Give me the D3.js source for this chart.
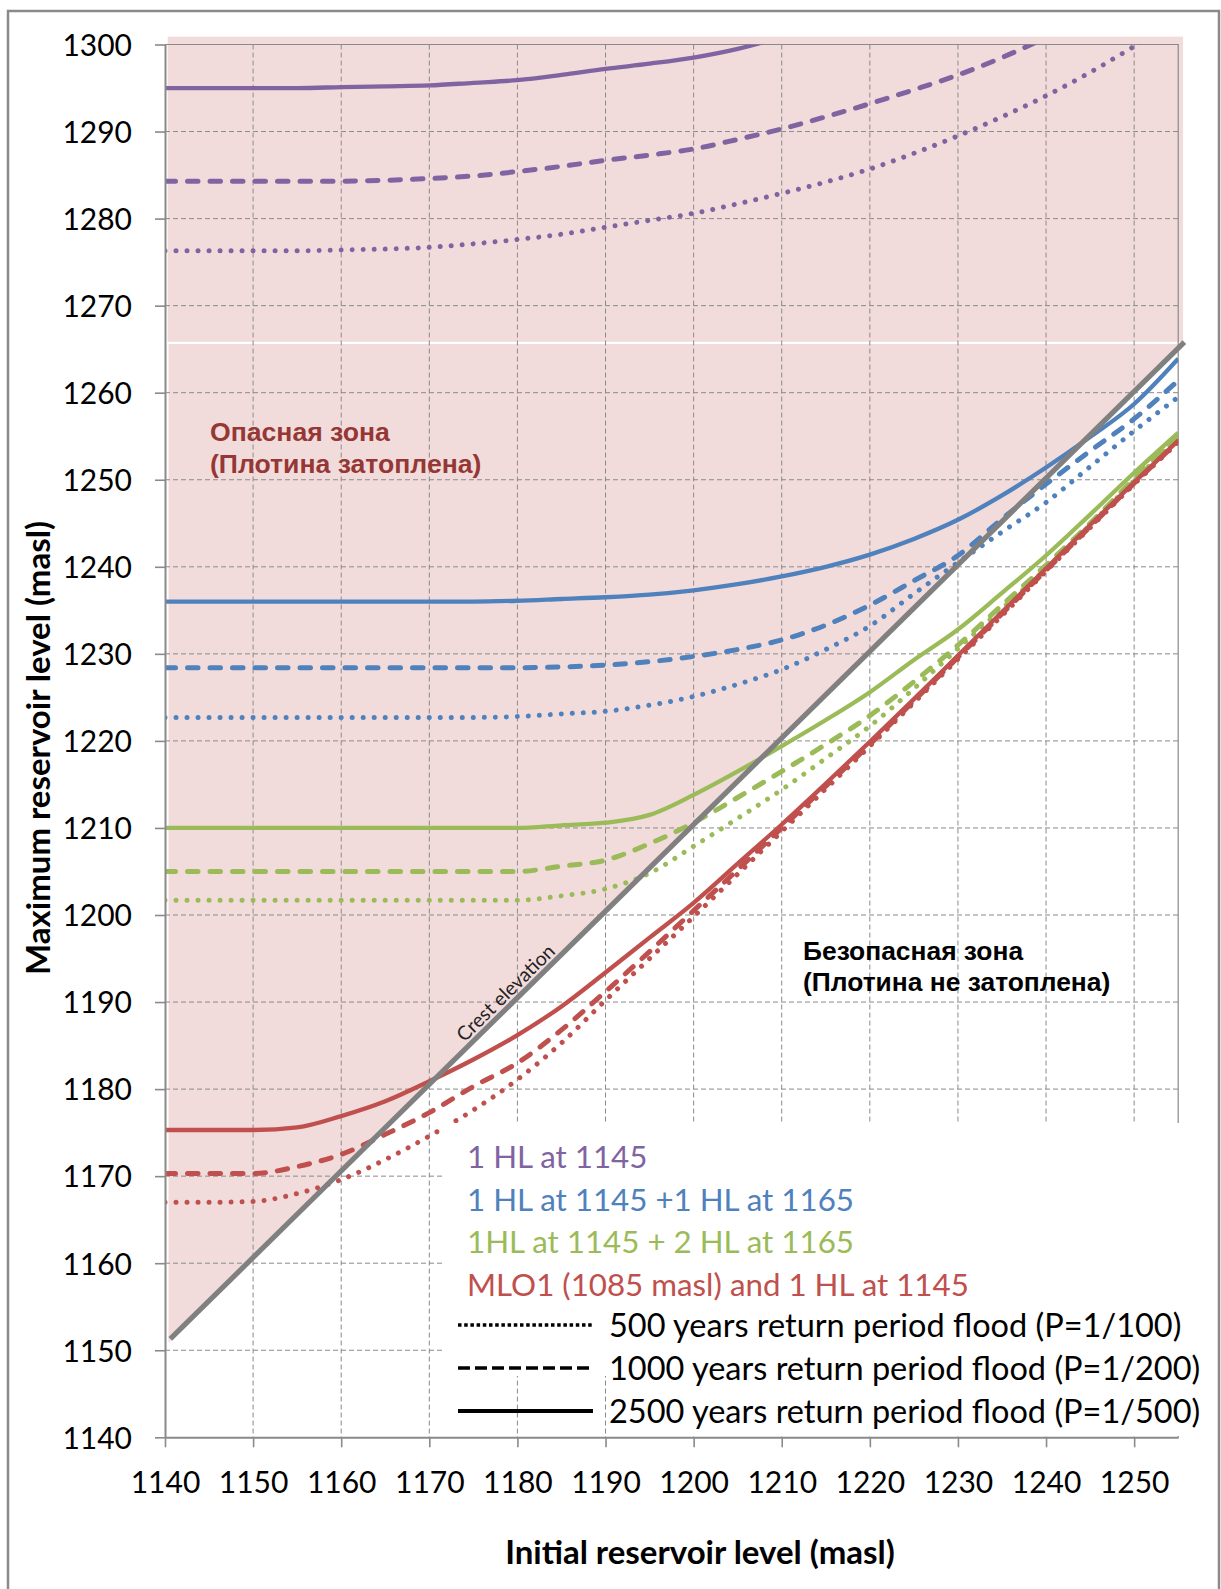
<!DOCTYPE html>
<html>
<head>
<meta charset="utf-8">
<script src="https://cdnjs.cloudflare.com/ajax/libs/d3/7.8.5/d3.min.js"></script>
<style>
  body { margin: 0; background: #fff; }
  text { font-family: Lato, "Open Sans", sans-serif; }
  text.zone { font-family: "Liberation Sans", Arial, sans-serif; font-weight: bold; }
</style>
</head>
<body>
<div id="chart"></div>
<script>
var svgWidth = 1221;
var svgHeight = 1589;

var margin = {
  top: 44.5,
  right: 42.8,
  bottom: 151.7,
  left: 165
};

var width = svgWidth - margin.left - margin.right;
var height = svgHeight - margin.top - margin.bottom;

// Initial reservoir level (masl), x of every point
var levels = [1140, 1145, 1150, 1155, 1160, 1165, 1170, 1175, 1180, 1185, 1190, 1195,
              1200, 1205, 1210, 1215, 1220, 1225, 1230, 1235, 1240, 1245, 1250, 1255];

// 1 HL at 1145
var hl1_500  = [1276.3, 1276.3, 1276.3, 1276.3, 1276.4, 1276.5, 1276.7, 1277.1, 1277.6, 1278.2, 1279.0, 1279.8,
                1280.6, 1281.7, 1282.9, 1284.2, 1285.7, 1287.5, 1289.5, 1291.7, 1294.1, 1296.8, 1299.8, 1303.0];
var hl1_1000 = [1284.3, 1284.3, 1284.3, 1284.3, 1284.3, 1284.4, 1284.6, 1284.9, 1285.4, 1286.0, 1286.7, 1287.3,
                1288.0, 1289.1, 1290.3, 1291.7, 1293.2, 1294.8, 1296.5, 1298.5, 1300.8, 1303.2, null, null];
var hl1_2500 = [1295.0, 1295.0, 1295.0, 1295.0, 1295.1, 1295.2, 1295.3, 1295.6, 1295.9, 1296.5, 1297.2, 1297.8,
                1298.5, 1299.5, 1300.9, 1302.7, null, null, null, null, null, null, null, null];

// 1 HL at 1145 + 1 HL at 1165
var hl2_500  = [1222.7, 1222.7, 1222.7, 1222.7, 1222.7, 1222.7, 1222.7, 1222.7, 1222.8, 1223.1, 1223.4, 1224.1,
                1225.1, 1226.5, 1228.2, 1230.5, 1233.2, 1236.9, 1240.5, 1244.0, 1247.4, 1251.5, 1255.6, 1259.5];
var hl2_1000 = [1228.4, 1228.4, 1228.4, 1228.4, 1228.4, 1228.4, 1228.4, 1228.4, 1228.4, 1228.5, 1228.7, 1229.1,
                1229.7, 1230.5, 1231.6, 1233.3, 1235.6, 1238.4, 1241.3, 1245.5, 1249.5, 1253.3, 1257.0, 1261.4];
var hl2_2500 = [1236.0, 1236.0, 1236.0, 1236.0, 1236.0, 1236.0, 1236.0, 1236.0, 1236.1, 1236.3, 1236.5, 1236.8,
                1237.3, 1238.0, 1238.9, 1240.0, 1241.4, 1243.2, 1245.4, 1248.2, 1251.4, 1254.9, 1258.7, 1263.9];

// 1 HL at 1145 + 2 HL at 1165
var hl3_500  = [1201.7, 1201.7, 1201.7, 1201.7, 1201.7, 1201.7, 1201.7, 1201.7, 1201.7, 1202.2, 1203.0, 1204.8,
                1207.9, 1211.1, 1214.4, 1218.0, 1221.7, 1226.0, 1230.6, 1235.2, 1239.8, 1244.8, 1249.9, 1254.8];
var hl3_1000 = [1205.0, 1205.0, 1205.0, 1205.0, 1205.0, 1205.0, 1205.0, 1205.0, 1205.0, 1205.6, 1206.3, 1208.2,
                1210.6, 1213.5, 1216.5, 1219.6, 1222.9, 1226.8, 1231.0, 1235.6, 1240.2, 1245.0, 1250.1, 1255.0];
var hl3_2500 = [1210.0, 1210.0, 1210.0, 1210.0, 1210.0, 1210.0, 1210.0, 1210.0, 1210.0, 1210.3, 1210.6, 1211.5,
                1213.8, 1216.5, 1219.4, 1222.4, 1225.6, 1229.3, 1232.8, 1237.0, 1241.3, 1246.0, 1250.8, 1255.4];

// MLO1 (1085 masl) and 1 HL at 1145
var mlo_500  = [1167.0, 1167.0, 1167.1, 1168.0, 1169.6, 1171.9, 1174.6, 1177.6, 1181.1, 1185.3, 1190.2, 1195.0,
                1199.8, 1204.7, 1209.6, 1214.5, 1219.4, 1224.4, 1229.4, 1234.4, 1239.5, 1244.5, 1249.5, 1254.3];
var mlo_1000 = [1170.3, 1170.3, 1170.3, 1171.1, 1172.5, 1174.8, 1177.3, 1180.3, 1183.0, 1186.8, 1191.2, 1195.8,
                1200.5, 1205.2, 1210.0, 1214.8, 1219.6, 1224.6, 1229.6, 1234.6, 1239.6, 1244.6, 1249.6, 1254.4];
var mlo_2500 = [1175.3, 1175.3, 1175.3, 1175.6, 1176.9, 1178.6, 1180.9, 1183.4, 1186.2, 1189.5, 1193.4, 1197.4,
                1201.4, 1205.9, 1210.4, 1215.1, 1219.9, 1224.8, 1229.8, 1234.8, 1239.8, 1244.8, 1249.7, 1254.5];

// crest elevation line (two ends)
var crestX = [1140.6, 1255.7];
var crestY = [1151.3, 1265.8];

var xTicks = [1140, 1150, 1160, 1170, 1180, 1190, 1200, 1210, 1220, 1230, 1240, 1250];
var yTicks = [1140, 1150, 1160, 1170, 1180, 1190, 1200, 1210, 1220, 1230, 1240, 1250, 1260, 1270, 1280, 1290, 1300];

var groupNames = ["1 HL at 1145", "1 HL at 1145 +1 HL at 1165", "1HL at 1145 + 2 HL at 1165", "MLO1 (1085 masl) and 1 HL at 1145"];
var groupColors = ["#8064A2", "#4F81BD", "#9BBB59", "#C0504D"];
var floodNames = ["500 years return period flood (P=1/100)", "1000 years return period flood (P=1/200)", "2500 years return period flood (P=1/500)"];
var floodStyles = ["dot", "dash", "solid"];

var series = [
  { values: hl1_500, group: 0, flood: 0 }, { values: hl1_1000, group: 0, flood: 1 }, { values: hl1_2500, group: 0, flood: 2 },
  { values: hl2_500, group: 1, flood: 0 }, { values: hl2_1000, group: 1, flood: 1 }, { values: hl2_2500, group: 1, flood: 2 },
  { values: hl3_500, group: 2, flood: 0 }, { values: hl3_1000, group: 2, flood: 1 }, { values: hl3_2500, group: 2, flood: 2 },
  { values: mlo_500, group: 3, flood: 0 }, { values: mlo_1000, group: 3, flood: 1 }, { values: mlo_2500, group: 3, flood: 2 }
];

var svg = d3.select("#chart")
  .append("svg")
  .attr("width", svgWidth)
  .attr("height", svgHeight);

svg.append("rect")
  .attr("width", svgWidth)
  .attr("height", svgHeight)
  .attr("fill", "#fff");

var chartGroup = svg.append("g")
  .attr("transform", `translate(${margin.left}, ${margin.top})`);

var x = d3.scaleLinear().domain([1140, 1255]).range([0, width]);
var y = d3.scaleLinear().domain([1140, 1300]).range([height, 0]);

// danger zone shading (two pieces, like the original)
chartGroup.append("rect")
  .attr("x", x(1140.3))
  .attr("y", y(1300.9))
  .attr("width", x(1255.55) - x(1140.3))
  .attr("height", y(1265.85) - y(1300.9))
  .attr("fill", "#F2DCDB");

chartGroup.append("path")
  .datum([[1140.4, 1265.6], [1255.4, 1265.6], [1140.4, 1150.9]])
  .attr("d", d3.line().x(d => x(d[0])).y(d => y(d[1])))
  .attr("fill", "#F2DCDB");

// dashed grid
chartGroup.selectAll(".vgrid")
  .data(xTicks.slice(1))
  .enter()
  .append("line")
  .attr("x1", d => x(d)).attr("x2", d => x(d))
  .attr("y1", 0).attr("y2", height)
  .attr("stroke", "#8a8a8a")
  .attr("stroke-width", 1)
  .attr("stroke-dasharray", "5,3");

chartGroup.selectAll(".hgrid")
  .data(yTicks.slice(1, -1))
  .enter()
  .append("line")
  .attr("x1", 0).attr("x2", width)
  .attr("y1", d => y(d)).attr("y2", d => y(d))
  .attr("stroke", "#8a8a8a")
  .attr("stroke-width", 1)
  .attr("stroke-dasharray", "5,3");

// plot area border top / right
chartGroup.append("path")
  .attr("d", `M0,0H${width}V${height}`)
  .attr("fill", "none")
  .attr("stroke", "#8a8a8a")
  .attr("stroke-width", 1.2);

// legend background
svg.append("rect")
  .attr("x", 443).attr("y", 1123)
  .attr("width", 740).attr("height", 253)
  .attr("fill", "#fff");
svg.append("rect")
  .attr("x", 612).attr("y", 1375)
  .attr("width", 571).attr("height", 61)
  .attr("fill", "#fff");

// zone captions
var danger = svg.append("text")
  .attr("class", "zone")
  .attr("x", 210).attr("y", 441)
  .attr("fill", "#953735")
  .attr("font-size", 26.6);
danger.append("tspan").attr("x", 210).text("Опасная зона");
danger.append("tspan").attr("x", 210).attr("dy", 31.5).text("(Плотина затоплена)");

var safe = svg.append("text")
  .attr("class", "zone")
  .attr("x", 803).attr("y", 960)
  .attr("fill", "#000")
  .attr("font-size", 26.4);
safe.append("tspan").attr("x", 803).text("Безопасная зона");
safe.append("tspan").attr("x", 803).attr("dy", 30.5).text("(Плотина не затоплена)");

// series lines
chartGroup.append("clipPath")
  .attr("id", "plotClip")
  .append("rect")
  .attr("x", 0).attr("y", 0)
  .attr("width", width).attr("height", height);

function dashFor(style) {
  if (style === "dot") return "0.01,11";
  if (style === "dash") return "10.5,12";
  return null;
}

var seriesLine = d3.line()
  .defined(d => d != null)
  .x((d, i) => x(levels[i]))
  .y(d => y(d))
  .curve(d3.curveMonotoneX);

var linesGroup = chartGroup.append("g").attr("clip-path", "url(#plotClip)");

linesGroup.selectAll(".series")
  .data(series)
  .enter()
  .append("path")
  .attr("class", "series")
  .attr("d", d => seriesLine(d.values))
  .attr("fill", "none")
  .attr("stroke", d => groupColors[d.group])
  .attr("stroke-width", d => floodStyles[d.flood] === "solid" ? 4.3 : 5)
  .attr("stroke-linecap", d => floodStyles[d.flood] === "solid" ? "butt" : "round")
  .attr("stroke-dasharray", d => dashFor(floodStyles[d.flood]));

// crest elevation line
chartGroup.append("line")
  .attr("x1", x(crestX[0])).attr("y1", y(crestY[0]))
  .attr("x2", x(crestX[1])).attr("y2", y(crestY[1]))
  .attr("stroke", "#808080")
  .attr("stroke-width", 5.2);

var crestAngle = Math.atan2(y(crestY[1]) - y(crestY[0]), x(crestX[1]) - x(crestX[0])) * 180 / Math.PI;
var labelAt = 1179.6;
var labelY = crestY[0] + (labelAt - crestX[0]) * (crestY[1] - crestY[0]) / (crestX[1] - crestX[0]);
chartGroup.append("text")
  .attr("transform", `translate(${x(labelAt)}, ${y(labelY)}) rotate(${crestAngle})`)
  .attr("y", -5)
  .attr("text-anchor", "middle")
  .attr("font-size", 19.5)
  .attr("fill", "#222")
  .text("Crest elevation");

// axes
var leftAxis = d3.axisLeft(y).tickValues(yTicks).tickSize(10).tickSizeOuter(0).tickPadding(23).tickFormat(d3.format("d"));
var bottomAxis = d3.axisBottom(x).tickValues(xTicks).tickSize(10).tickSizeOuter(0).tickPadding(24).tickFormat(d3.format("d"));

var yAxisG = chartGroup.append("g").call(leftAxis);
var xAxisG = chartGroup.append("g")
  .attr("transform", `translate(0, ${height})`)
  .call(bottomAxis);

[yAxisG, xAxisG].forEach(function(g) {
  g.select(".domain").attr("stroke", "#8a8a8a").attr("stroke-width", 2);
  g.selectAll(".tick line").attr("stroke", "#8a8a8a").attr("stroke-width", 1.6);
  g.selectAll(".tick text")
    .attr("font-family", "Lato, 'Open Sans', sans-serif")
    .attr("font-size", 30)
    .attr("fill", "#000");
});
yAxisG.selectAll(".tick text").attr("dy", "0.36em");

// legend: groups (coloured text)
svg.selectAll(".groupLabel")
  .data(groupNames)
  .enter()
  .append("text")
  .attr("x", 467)
  .attr("y", (d, i) => 1157 + i * 42.6)
  .attr("dy", "0.36em")
  .attr("font-size", 31.3)
  .attr("fill", (d, i) => groupColors[i])
  .text(d => d);

// legend: flood line styles
var floodRows = svg.selectAll(".floodRow")
  .data(floodNames)
  .enter()
  .append("g")
  .attr("transform", (d, i) => `translate(0, ${1325 + i * 43})`);

floodRows.append("line")
  .attr("x1", 458).attr("x2", 593)
  .attr("y1", 0).attr("y2", 0)
  .attr("stroke", "#000")
  .attr("stroke-width", (d, i) => i === 2 ? 4 : 3.5)
  .attr("stroke-dasharray", (d, i) => i === 0 ? "3.5,2.7" : (i === 1 ? "12,5" : null));

floodRows.append("text")
  .attr("x", 609)
  .attr("y", 0)
  .attr("dy", "0.36em")
  .attr("font-size", 32.5)
  .attr("fill", "#000")
  .text(d => d);

// axis titles
svg.append("text")
  .attr("transform", "rotate(-90)")
  .attr("x", -748)
  .attr("y", 38)
  .attr("dy", "0.36em")
  .attr("text-anchor", "middle")
  .attr("font-weight", "bold")
  .attr("font-size", 33)
  .text("Maximum reservoir level (masl)");

svg.append("text")
  .attr("x", 700)
  .attr("y", 1564)
  .attr("text-anchor", "middle")
  .attr("font-weight", "bold")
  .attr("font-size", 33)
  .text("Initial reservoir level (masl)");

// outer frame
svg.append("rect")
  .attr("x", 8).attr("y", 11)
  .attr("width", 1211).attr("height", 1600)
  .attr("fill", "none")
  .attr("stroke", "#8a8a8a")
  .attr("stroke-width", 2.5);
</script>
</body>
</html>
